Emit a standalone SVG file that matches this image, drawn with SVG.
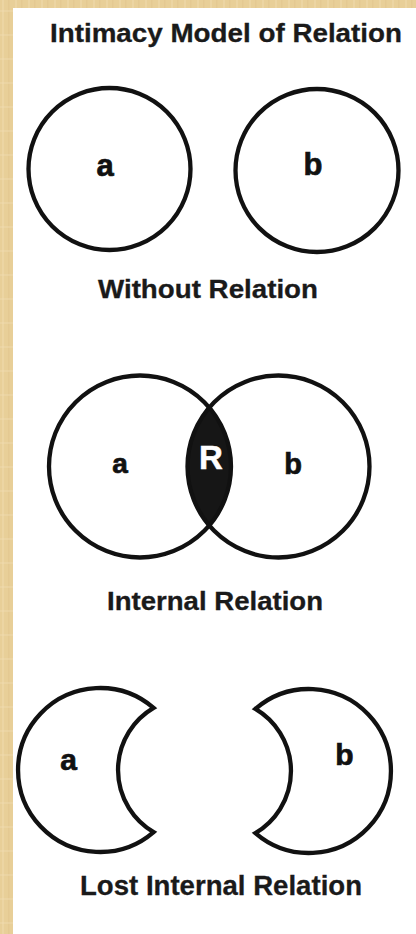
<svg xmlns="http://www.w3.org/2000/svg" width="416" height="934" viewBox="0 0 416 934">
  <defs>
    <pattern id="paper" x="0" y="0" width="13" height="24" patternUnits="userSpaceOnUse">
      <rect width="13" height="24" fill="#e8cf98"/>
      <rect x="2" y="0" width="2" height="24" fill="#eed9aa" opacity="0.6"/>
      <rect x="8" y="0" width="1.5" height="24" fill="#dfc48c" opacity="0.5"/>
      <rect x="0" y="10" width="13" height="2" fill="#f0ddb2" opacity="0.4"/>
    </pattern>
  </defs>
  <style>
    .ring { fill: none; stroke: #111; stroke-width: 4.3; }
    .lbl { font-family: "Liberation Sans", Arial, sans-serif; font-weight: bold; fill: #111; stroke: #111; stroke-width: 0.7; text-anchor: middle; }
    .cap { font-family: "Liberation Sans", Arial, sans-serif; font-weight: bold; fill: #1a1a1a; stroke: #1a1a1a; stroke-width: 0.3; text-anchor: middle; }
  </style>

  <rect id="background" x="0" y="0" width="416" height="934" fill="url(#paper)"/>
  <rect id="panel" x="13" y="8" width="403" height="926" fill="#ffffff"/>

  <g id="title">
    <text class="cap" x="226" y="42" font-size="25" textLength="352" lengthAdjust="spacingAndGlyphs">Intimacy Model of Relation</text>
  </g>

  <!-- Without Relation -->
  <g id="node-a1">
    <circle class="ring" cx="109.5" cy="169" r="81"/>
    <text class="lbl" x="105" y="176" font-size="31">a</text>
  </g>
  <g id="node-b1">
    <circle class="ring" cx="317" cy="170.5" r="81.5"/>
    <text class="lbl" x="313" y="175" font-size="31">b</text>
  </g>
  <g id="caption-without">
    <text class="cap" x="208" y="298" font-size="26" textLength="220" lengthAdjust="spacingAndGlyphs">Without Relation</text>
  </g>

  <!-- Internal Relation -->
  <g id="node-R">
    <path d="M 209.25 407.46 A 91 91 0 0 1 209.25 525.54 A 91 91 0 0 1 209.25 407.46 Z" fill="#161616"/>
    <text class="lbl" x="211" y="469" font-size="33" style="fill:#ffffff;stroke:#ffffff;stroke-width:0.5">R</text>
  </g>
  <g id="node-a2">
    <circle class="ring" cx="140" cy="466.5" r="91"/>
    <text class="lbl" x="120" y="473" font-size="28">a</text>
  </g>
  <g id="node-b2">
    <circle class="ring" cx="278.5" cy="466.5" r="91"/>
    <text class="lbl" x="293" y="474" font-size="29">b</text>
  </g>
  <g id="caption-internal">
    <text class="cap" x="215" y="610" font-size="25" textLength="216" lengthAdjust="spacingAndGlyphs">Internal Relation</text>
  </g>

  <!-- Lost Internal Relation -->
  <g id="node-a3">
    <path class="ring" d="M 153.6 707.9 A 82 82 0 1 0 153.6 832.1 A 72 72 0 0 1 153.6 707.9 Z"/>
    <text class="lbl" x="68.7" y="770" font-size="30">a</text>
  </g>
  <g id="node-b3">
    <path class="ring" d="M 255.4 708.9 A 82 82 0 1 1 255.4 833.1 A 72 72 0 0 0 255.4 708.9 Z"/>
    <text class="lbl" x="344.5" y="765" font-size="30">b</text>
  </g>
  <g id="caption-lost">
    <text class="cap" x="221" y="895" font-size="27" textLength="282" lengthAdjust="spacingAndGlyphs">Lost Internal Relation</text>
  </g>

  <g id="connectors"/>
</svg>
